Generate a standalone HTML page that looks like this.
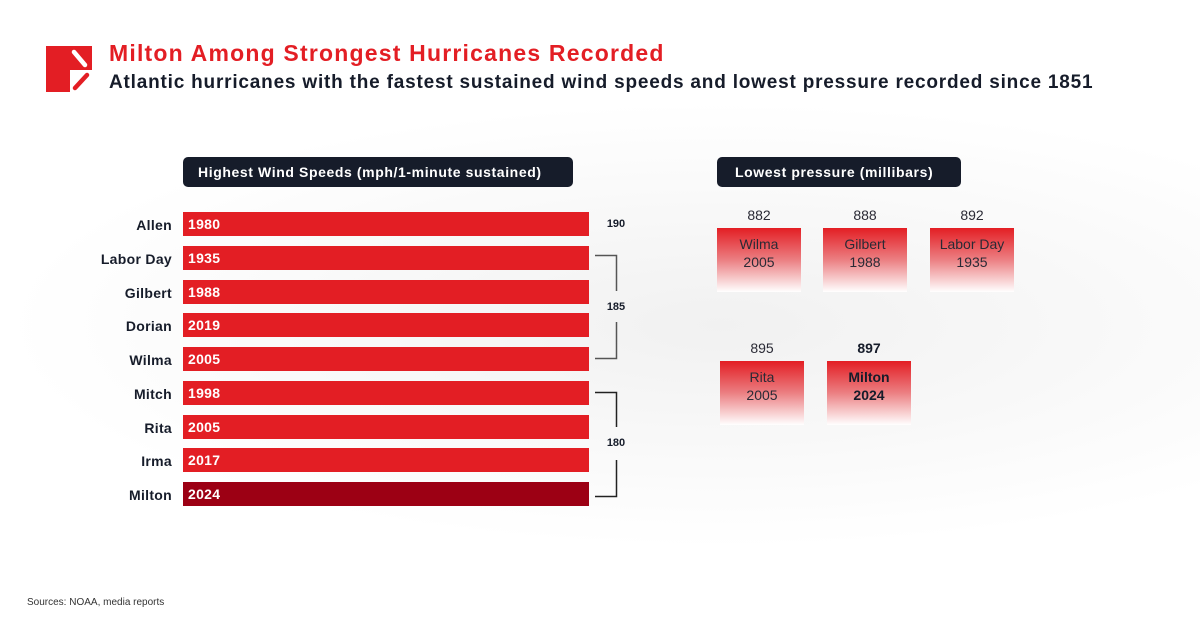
<!DOCTYPE html>
<html><head><style>
body{margin:0;width:1200px;height:628px;overflow:hidden;background:#fff;font-family:"Liberation Sans",sans-serif;position:relative}
.a{position:absolute}
.t1{left:109px;top:40px;font-size:23px;font-weight:bold;color:#e31e24;letter-spacing:1.2px}
.t2{left:109px;top:72px;font-size:19px;font-weight:bold;color:#161c2a;letter-spacing:0.8px}
.hdr{background:#161c2a;color:#fff;font-weight:bold;font-size:14px;border-radius:5px;height:30px;line-height:30px;letter-spacing:0.6px}
.lab{width:172px;left:0;text-align:right;font-size:14px;font-weight:bold;color:#161c2a;letter-spacing:0.3px}
.bar{left:183px;width:406px;height:24px;background:#e31e24;color:#fff;font-weight:bold;font-size:14px;line-height:24px;padding-left:5px;box-sizing:border-box;letter-spacing:0.3px}
.v{font-size:11px;font-weight:bold;color:#161c2a;width:40px;text-align:center;left:596px}
.box{width:84px;height:64px;background:linear-gradient(#e31e24,rgba(227,30,36,0.55) 50%,rgba(255,255,255,1));text-align:center;font-size:14px;color:#2a2a35;line-height:18px;padding-top:7px;box-sizing:border-box}
.num{width:84px;text-align:center;font-size:14px;color:#2a2a35}
</style></head><body>
<div class="a" style="left:0;top:100px;width:1200px;height:450px;background:radial-gradient(ellipse at 60% 50%,#f1f1f1,rgba(255,255,255,0) 70%)"></div>
<svg class="a" style="left:46px;top:46px" width="47" height="47" viewBox="0 0 47 47">
<path d="M0 0H46V24H24V46H0Z" fill="#e31e24"/>
<path d="M28 6 L39 19" stroke="#fff" stroke-width="4.5" stroke-linecap="round"/>
<path d="M29 42 L41 29" stroke="#e31e24" stroke-width="4.5" stroke-linecap="round"/>
</svg>
<div class="a t1">Milton Among Strongest Hurricanes Recorded</div>
<div class="a t2">Atlantic hurricanes with the fastest sustained wind speeds and lowest pressure recorded since 1851</div>
<div class="a hdr" style="left:183px;top:157px;width:390px;padding-left:15px;box-sizing:border-box">Highest Wind Speeds (mph/1-minute sustained)</div>
<div class="a hdr" style="left:717px;top:157px;width:244px;padding-left:18px;box-sizing:border-box">Lowest pressure (millibars)</div>

<div class="a lab" style="top:217px">Allen</div><div class="a bar" style="top:212px">1980</div>
<div class="a lab" style="top:251px">Labor Day</div><div class="a bar" style="top:246px">1935</div>
<div class="a lab" style="top:285px">Gilbert</div><div class="a bar" style="top:280px">1988</div>
<div class="a lab" style="top:318px">Dorian</div><div class="a bar" style="top:313px">2019</div>
<div class="a lab" style="top:352px">Wilma</div><div class="a bar" style="top:347px">2005</div>
<div class="a lab" style="top:386px">Mitch</div><div class="a bar" style="top:381px">1998</div>
<div class="a lab" style="top:420px">Rita</div><div class="a bar" style="top:415px">2005</div>
<div class="a lab" style="top:453px">Irma</div><div class="a bar" style="top:448px">2017</div>
<div class="a lab" style="top:487px">Milton</div><div class="a bar" style="top:482px;background:#9c0014">2024</div>

<div class="a v" style="top:218px">190</div>
<div class="a v" style="top:301px">185</div>
<div class="a v" style="top:437px">180</div>
<svg class="a" style="left:590px;top:250px" width="40" height="260">
<path d="M5 5.5H26.5V41M26.5 72V108.5H5" fill="none" stroke="#555" stroke-width="1.5"/>
<path d="M5 142.5H26.5V177M26.5 210V246.5H5" fill="none" stroke="#222" stroke-width="1.5"/>
</svg>

<div class="a num" style="left:717px;top:207px">882</div>
<div class="a box" style="left:717px;top:228px">Wilma<br>2005</div>
<div class="a num" style="left:823px;top:207px">888</div>
<div class="a box" style="left:823px;top:228px">Gilbert<br>1988</div>
<div class="a num" style="left:930px;top:207px">892</div>
<div class="a box" style="left:930px;top:228px">Labor Day<br>1935</div>
<div class="a num" style="left:720px;top:340px">895</div>
<div class="a box" style="left:720px;top:361px">Rita<br>2005</div>
<div class="a num" style="left:827px;top:340px;font-weight:bold;color:#161c2a">897</div>
<div class="a box" style="left:827px;top:361px;font-weight:bold;color:#161c2a">Milton<br>2024</div>

<div class="a" style="left:27px;top:597px;font-size:10px;color:#333">Sources: NOAA, media reports</div>
</body></html>
